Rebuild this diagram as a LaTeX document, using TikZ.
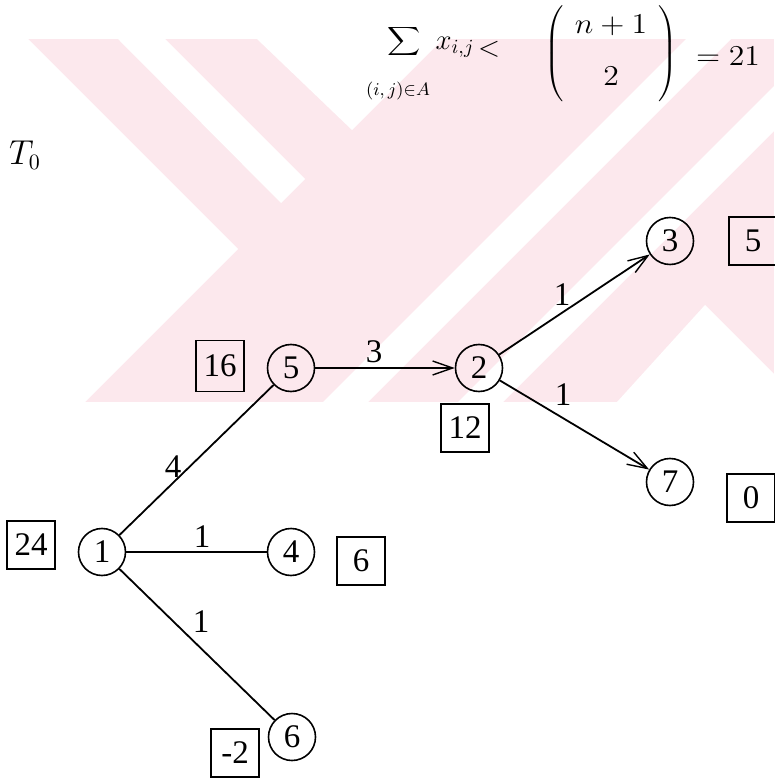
\documentclass[tikz,border=0pt]{standalone}
\usepackage{fontspec}
\usepackage{graphicx}
\newfontfamily\tms{Liberation Serif}
\usetikzlibrary{arrows.meta}
\definecolor{wmpink}{RGB}{252,232,237}
\begin{document}
\begin{tikzpicture}[x=0.5pt,y=-0.5pt,
  vtx/.style={circle,draw,line width=0.8pt,minimum size=23.5pt,inner sep=0pt,font=\tms\fontsize{16.5}{18}\selectfont},
  val/.style={draw,line width=0.8pt,minimum width=24pt,minimum height=24pt,inner sep=1.5pt,font=\tms\fontsize{16.5}{18}\selectfont},
  lbl/.style={inner sep=0pt,font=\tms\fontsize{16.5}{18}\selectfont},
  edge/.style={line width=0.9pt},
  arr/.style={-{Straight Barb[length=10pt,width=7pt,line width=0.7pt]}},
  fml/.style={inner sep=0pt,font=\fontsize{14}{16}\selectfont},
  wm/.style={fill=wmpink,draw=none},
  wmw/.style={fill=white,draw=none}]
\useasboundingbox (0,0) rectangle (774,779);
\fill[white] (0,0) rectangle (774,779);
% watermark
\fill[wm] (0,39) rectangle (774,402);
\fill[wmw] (0,39) -- (28,39) -- (238,249) -- (85,402) -- (0,402) -- cycle;
\fill[wmw] (118,39) -- (165,39) -- (305,179) -- (281,203) -- cycle;
\fill[wmw] (257,39) -- (352,130) -- (443,39) -- cycle;
\fill[wmw] (686,39) -- (731,39) -- (368,402) -- (323,402) -- cycle;
\fill[wmw] (774,86) -- (774,131) -- (503,402) -- (458,402) -- cycle;
\fill[wmw] (705,305) -- (617,402) -- (774,402) -- (774,374) -- cycle;
% formula
\node[fml,font=\fontsize{8.5}{10}\selectfont] (sum) at (404,42) {\scalebox{1.15}[1]{$\displaystyle\sum$}};
\node[fml,font=\fontsize{9.5}{11}\selectfont] (sub) at (398,91) {$(i,j){\in}A$};
\node[fml] (xij) at (455,47) {$x_{i,j}$};
\node[fml] (lt) at (489,49) {$<$};
\node[fml] (bin) at (611,54) {\scalebox{1.1}[1]{$\left(\vrule height 25pt depth 21pt width 0pt\begin{array}{@{\hspace{5pt}}c@{\hspace{5pt}}}n+1\\[10pt]2\end{array}\right)$}};
\node[fml] (eq) at (728,56) {\scalebox{1.1}[1]{$=21$}};
\node[inner sep=0pt,font=\fontsize{16}{18}\selectfont] (t0) at (25,155) {$T_0$};
% vertices
\node[vtx] (n1) at (102,552) {1};
\node[vtx] (n5) at (291,368) {5};
\node[vtx] (n2) at (479,368) {2};
\node[vtx] (n3) at (670,241) {3};
\node[vtx] (n7) at (670,482) {7};
\node[vtx] (n4) at (291,552) {4};
\node[vtx] (n6) at (292,737) {6};
% values
\node[val] (v1) at (31,545) {24};
\node[val,minimum height=25.5pt] (v5) at (220,366) {16};
\node[val] (v2) at (465,428) {12};
\node[val] (v3) at (753,241) {5};
\node[val] (v7) at (751,498) {0};
\node[val] (v4) at (361,561) {6};
\node[val] (v6) at (235,753) {-2};
% edges
\draw[edge] (n1) -- (n5);
\draw[edge] (n1) -- (n4);
\draw[edge] (n1) -- (n6);
\draw[edge,arr] (n5) -- (n2);
\draw[edge,arr] (n2) -- (n3);
\draw[edge,arr] (n2) -- (n7);
% edge labels
\node[lbl] (l15) at (173,467) {4};
\node[lbl] (l14) at (202,537) {1};
\node[lbl] (l16) at (201,622) {1};
\node[lbl] (l52) at (374,352) {3};
\node[lbl] (l23) at (562,295) {1};
\node[lbl] (l27) at (563,395) {1};
\end{tikzpicture}
\end{document}
